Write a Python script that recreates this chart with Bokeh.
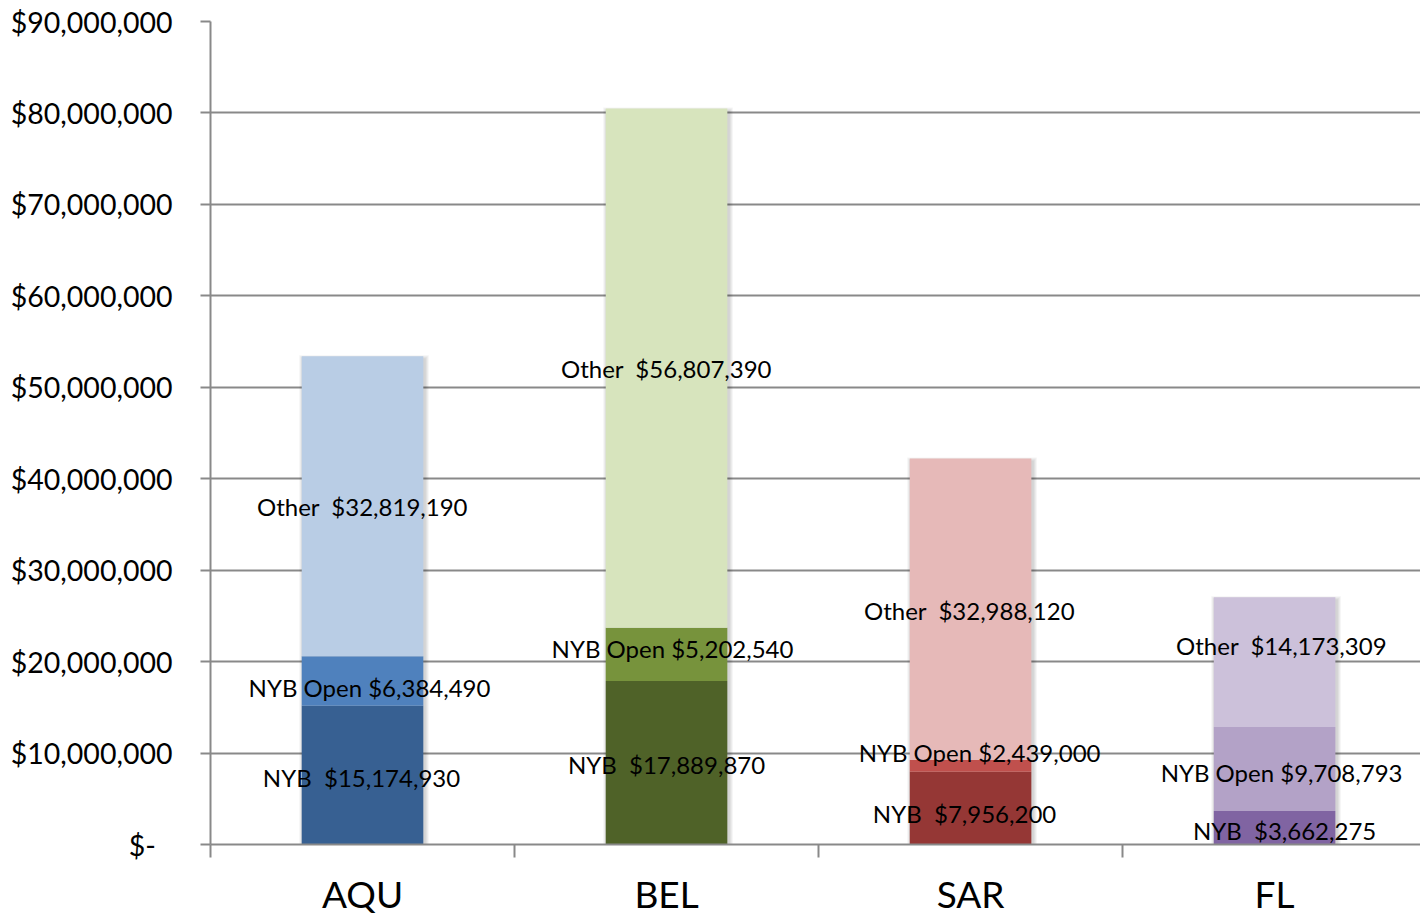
from bokeh.plotting import figure
from bokeh.models import ColumnDataSource, Range1d, FixedTicker, NumeralTickFormatter
from bokeh.core.properties import value
from bokeh.embed import file_html
from bokeh.resources import INLINE

# ---- data ----
categories = ["AQU", "BEL", "SAR", "FL"]
nyb = [15174930, 17889870, 7956200, 3662275]
nyb_open_labels = [6384490, 5202540, 2439000, 9708793]
nyb_open_bars = [5400000, 5800000, 1280000, 9190000]   # bar heights as drawn
other = [32819190, 56807390, 32988120, 14173309]
y_ticks = [0, 10000000, 20000000, 30000000, 40000000, 50000000,
           60000000, 70000000, 80000000, 90000000]

# ---- styles ----
colors_nyb = ["#376092", "#4F6228", "#953735", "#8064A2"]
colors_open = ["#4F81BD", "#77933C", "#C0504D", "#B3A2C7"]
colors_other = ["#B9CDE5", "#D7E4BD", "#E6B9B8", "#CCC1DA"]
FONT = "Lato"
GRID = "#898989"

# label nudges in screen pixels (dx right, dy down)
other_dx = [0, 0, -1, 7]
other_dy = [0, 0, 1, -17]
open_dx = [7, 6, 9, 7]
open_dy = [6, -6, -13, 4]
nyb_dx = [-1, 0, -6, 10]
nyb_dy = [2, 2, 5, 3]

W, H = 1420, 918
LEFT, TOP, BOTTOM = 210, 21, 74
Y_MAX = 90000000
X_END_TRIM = 0.02      # last category slot runs slightly past the right edge

n = len(categories)
xs = [i + 0.5 for i in range(n)]
open_bottom = nyb[:]
open_top = [a + b for a, b in zip(nyb, nyb_open_bars)]
other_top = [a + b for a, b in zip(open_top, other)]

p = figure(width=W, height=H, output_backend="svg", toolbar_location=None,
           x_range=Range1d(0, n - X_END_TRIM), y_range=Range1d(0, Y_MAX),
           min_border_left=LEFT, min_border_right=0, min_border_top=TOP,
           min_border_bottom=BOTTOM)
p.outline_line_color = None
p.background_fill_color = "white"
p.border_fill_color = "white"

bw = 0.4
# soft drop shadow (a few translucent layers)
ux = (n - X_END_TRIM) / (W - LEFT)  # data units per pixel, x
uy = Y_MAX / (H - TOP - BOTTOM)     # data units per pixel, y
for k in range(1, 5):
    p.vbar(x=[x + 1.5 * ux for x in xs], bottom=-(1.5 + k) * uy,
           top=[t - (3 - k) * uy for t in other_top],
           width=bw + 2 * k * ux, fill_color="black", fill_alpha=0.045,
           line_color=None)

p.vbar(x=xs, bottom=0, top=nyb, width=bw, fill_color=colors_nyb, line_color=None)
p.vbar(x=xs, bottom=open_bottom, top=open_top, width=bw, fill_color=colors_open, line_color=None)
p.vbar(x=xs, bottom=open_top, top=other_top, width=bw, fill_color=colors_other, line_color=None)

def money(v):
    return "${:,}".format(v)

lab_x, lab_y, lab_t, lab_dx, lab_dy = [], [], [], [], []
for i in range(n):
    lab_x += [xs[i]] * 3
    lab_y += [(open_top[i] + other_top[i]) / 2,
              (open_bottom[i] + open_top[i]) / 2,
              nyb[i] / 2]
    lab_t += ["Other \u00a0" + money(other[i]),
              "NYB Open " + money(nyb_open_labels[i]),
              "NYB \u00a0" + money(nyb[i])]
    lab_dx += [other_dx[i], open_dx[i], nyb_dx[i]]
    lab_dy += [other_dy[i], open_dy[i], nyb_dy[i]]

src = ColumnDataSource(dict(x=lab_x, y=lab_y, t=lab_t, dx=lab_dx, dy=lab_dy))
p.text(x="x", y="y", text="t", x_offset="dx", y_offset="dy", source=src,
       text_font=value(FONT), text_font_size="24px", text_color="black",
       text_align="center", text_baseline="middle")

# y axis
yax = p.yaxis[0]
yax.ticker = FixedTicker(ticks=y_ticks, minor_ticks=[])
yax.formatter = NumeralTickFormatter(format="$0,0")
yax.major_label_overrides = {0: "$-\u2007"}
yax.major_label_text_font = FONT
yax.major_label_text_font_size = "28.5px"
yax.major_label_text_color = "black"
yax.major_label_standoff = 28
yax.major_tick_in = 0
yax.major_tick_out = 10
yax.major_tick_line_color = GRID
yax.major_tick_line_width = 2
yax.axis_line_color = GRID
yax.axis_line_width = 2
yax.minor_tick_line_color = None

# x axis: category names at centres, boundary ticks as minor ticks
xax = p.xaxis[0]
xax.ticker = FixedTicker(ticks=xs, minor_ticks=list(range(n + 1)))
xax.major_label_overrides = {x: c for x, c in zip(xs, categories)}
xax.major_label_text_font = FONT
xax.major_label_text_font_size = "37px"
xax.major_label_text_color = "black"
xax.major_label_text_line_height = 1.0
xax.major_label_standoff = 13
xax.major_tick_in = 0
xax.major_tick_out = 0
xax.minor_tick_in = 0
xax.minor_tick_out = 13
xax.minor_tick_line_color = GRID
xax.minor_tick_line_width = 2
xax.axis_line_color = GRID
xax.axis_line_width = 2

p.xgrid.grid_line_color = None
p.ygrid.ticker = FixedTicker(ticks=y_ticks)
p.ygrid.grid_line_color = GRID
p.ygrid.grid_line_width = 2

open("out.html", "w").write(file_html(p, INLINE))
